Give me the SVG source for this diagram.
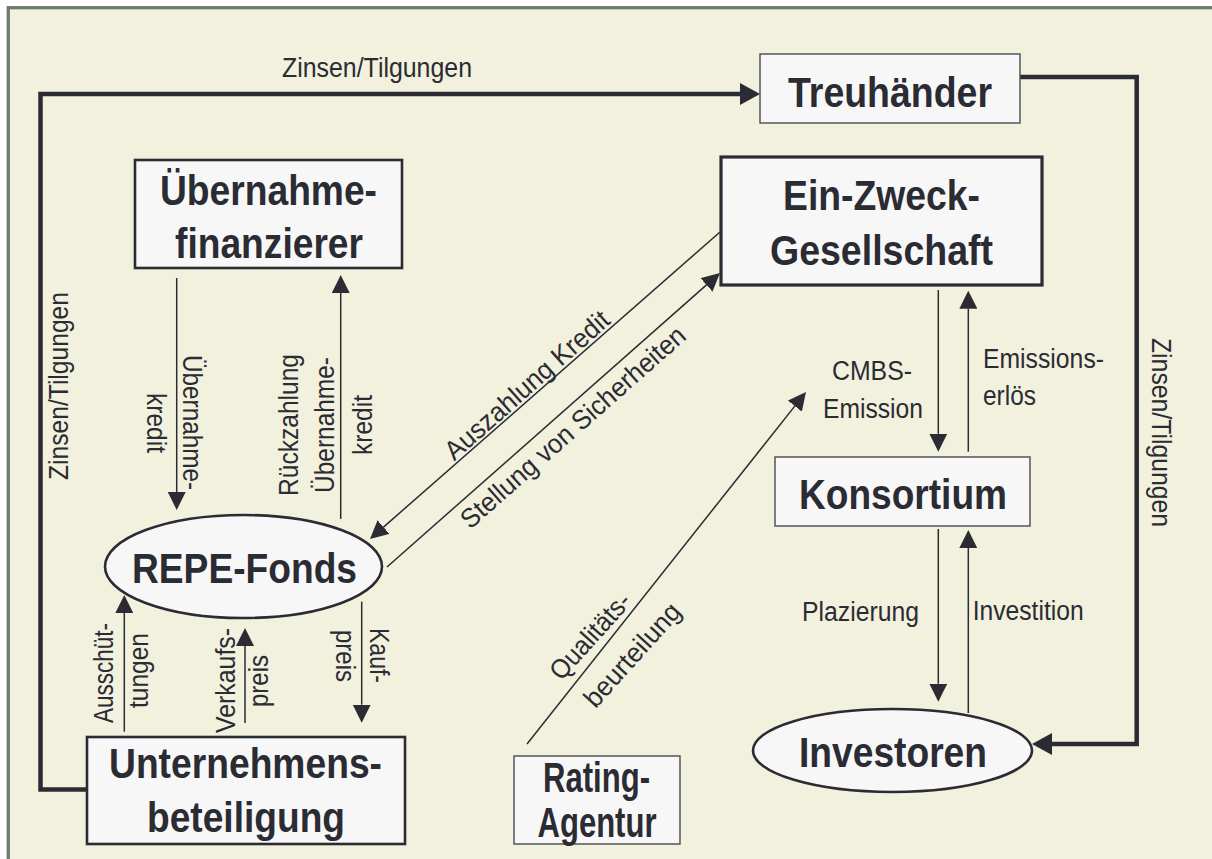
<svg xmlns="http://www.w3.org/2000/svg" width="1212" height="859" viewBox="0 0 1212 859">
  <style>
    .frame { fill: #f2f1dd; stroke: #6f7b6f; stroke-width: 3.3; }
    .box { fill: #f7f7f7; stroke: #2b2b34; }
    .thin { stroke-width: 1.4; stroke: #4a4a50; }
    .mid { stroke-width: 2.6; }
    .heavy { stroke-width: 3.2; }
    .flow { fill: none; stroke: #2b2b34; stroke-width: 1.5; }
    .loop { fill: none; stroke: #2b2b34; stroke-width: 4.5; stroke-linejoin: miter; }
    text { font-family: "Liberation Sans Narrow", "Liberation Sans", Arial, sans-serif; fill: #2b2b34; }
    .big { font-size: 43px; font-weight: bold; text-anchor: middle; }
    .lbl { font-size: 27px; text-anchor: middle; }
    .lft { text-anchor: start; }
  </style>
  <defs>
    <marker id="ah" markerUnits="userSpaceOnUse" markerWidth="18" markerHeight="18" refX="0" refY="9" orient="auto">
      <path d="M0,0 L18,9 L0,18 z" fill="#2b2b34"/>
    </marker>
    <marker id="ahBig" markerUnits="userSpaceOnUse" markerWidth="20" markerHeight="22" refX="0" refY="11" orient="auto">
      <path d="M0,0 L20,11 L0,22 z" fill="#2b2b34"/>
    </marker>
  </defs>

  <rect x="0" y="0" width="1212" height="859" fill="#ffffff"/>
  <rect class="frame" x="8.3" y="7.7" width="1240" height="900"/>

  <!-- connectors -->
  <g id="connectors">
    <path class="loop" d="M87,789.5 H40.5 V94 H740" marker-end="url(#ahBig)"/>
    <path class="loop" d="M1020,77 H1136.7 V744 H1052" marker-end="url(#ahBig)"/>

    <path class="flow" d="M176.7,278 V492" marker-end="url(#ah)"/>
    <path class="flow" d="M340.7,519 V293" marker-end="url(#ah)"/>
    <path class="flow" d="M720,232 L383.5,527.1" marker-end="url(#ah)"/>
    <path class="flow" d="M387,567 L706.5,284.9" marker-end="url(#ah)"/>
    <path class="flow" d="M527,744 L794.8,406.1" marker-end="url(#ah)"/>
    <path class="flow" d="M124.3,731.7 V613" marker-end="url(#ah)"/>
    <path class="flow" d="M245,723 V646" marker-end="url(#ah)"/>
    <path class="flow" d="M361.7,601.7 V704.7" marker-end="url(#ah)"/>
    <path class="flow" d="M938.3,290 V433.7" marker-end="url(#ah)"/>
    <path class="flow" d="M968.3,451.7 V308.7" marker-end="url(#ah)"/>
    <path class="flow" d="M938.3,529 V683.7" marker-end="url(#ah)"/>
    <path class="flow" d="M968.3,713 V548" marker-end="url(#ah)"/>

    <!-- flow labels -->
    <text class="lbl" x="377" y="77" textLength="190" lengthAdjust="spacingAndGlyphs">Zinsen/Tilgungen</text>
    <text class="lbl" transform="translate(68.3,386) rotate(-90)" textLength="188" lengthAdjust="spacingAndGlyphs">Zinsen/Tilgungen</text>
    <text class="lbl" transform="translate(1151.7,432.5) rotate(90)" textLength="189" lengthAdjust="spacingAndGlyphs">Zinsen/Tilgungen</text>

    <text class="lbl" transform="translate(183,422.5) rotate(90)" textLength="135" lengthAdjust="spacingAndGlyphs">Übernahme-</text>
    <text class="lbl" transform="translate(147,423) rotate(90)" textLength="60" lengthAdjust="spacingAndGlyphs">kredit</text>

    <text class="lbl" transform="translate(298,425) rotate(-90)" textLength="142" lengthAdjust="spacingAndGlyphs">Rückzahlung</text>
    <text class="lbl" transform="translate(333.5,425) rotate(-90)" textLength="136" lengthAdjust="spacingAndGlyphs">Übernahme-</text>
    <text class="lbl" transform="translate(371.7,425) rotate(-90)" textLength="60" lengthAdjust="spacingAndGlyphs">kredit</text>

    <text class="lbl" transform="translate(533,392) rotate(-41.4)" textLength="210" lengthAdjust="spacingAndGlyphs">Auszahlung Kredit</text>
    <text class="lbl" transform="translate(579,434) rotate(-41.4)" textLength="290" lengthAdjust="spacingAndGlyphs">Stellung von Sicherheiten</text>

    <text class="lbl" transform="translate(597,642) rotate(-48)" textLength="107" lengthAdjust="spacingAndGlyphs">Qualitäts-</text>
    <text class="lbl" transform="translate(639,661) rotate(-48)" textLength="130" lengthAdjust="spacingAndGlyphs">beurteilung</text>

    <text class="lbl" transform="translate(113.3,673) rotate(-90)" textLength="100" lengthAdjust="spacingAndGlyphs">Ausschüt-</text>
    <text class="lbl" transform="translate(147.5,670.5) rotate(-90)" textLength="75" lengthAdjust="spacingAndGlyphs">tungen</text>
    <text class="lbl" transform="translate(235,680.5) rotate(-90)" textLength="105" lengthAdjust="spacingAndGlyphs">Verkaufs-</text>
    <text class="lbl" transform="translate(268,681) rotate(-90)" textLength="52" lengthAdjust="spacingAndGlyphs">preis</text>
    <text class="lbl" transform="translate(370,655.5) rotate(90)" textLength="55" lengthAdjust="spacingAndGlyphs">Kauf-</text>
    <text class="lbl" transform="translate(336,656) rotate(90)" textLength="52" lengthAdjust="spacingAndGlyphs">preis</text>

    <text class="lbl" x="872" y="380" textLength="80" lengthAdjust="spacingAndGlyphs">CMBS-</text>
    <text class="lbl" x="873" y="417.6" textLength="100" lengthAdjust="spacingAndGlyphs">Emission</text>
    <text class="lbl lft" x="983" y="368" textLength="121" lengthAdjust="spacingAndGlyphs">Emissions-</text>
    <text class="lbl lft" x="983" y="405" textLength="53" lengthAdjust="spacingAndGlyphs">erlös</text>
    <text class="lbl" x="860.5" y="621" textLength="117" lengthAdjust="spacingAndGlyphs">Plazierung</text>
    <text class="lbl lft" x="972.7" y="620" textLength="111" lengthAdjust="spacingAndGlyphs">Investition</text>
  </g>

  <!-- nodes -->
  <g id="treuhaender">
    <rect class="box thin" x="760" y="54" width="260" height="69"/>
    <text class="big" x="890" y="107" font-size="46" textLength="204" lengthAdjust="spacingAndGlyphs">Treuhänder</text>
  </g>
  <g id="ein-zweck-gesellschaft">
    <rect class="box heavy" x="721" y="157" width="321" height="128"/>
    <text class="big" x="881.5" y="210" font-size="44" textLength="197" lengthAdjust="spacingAndGlyphs">Ein-Zweck-</text>
    <text class="big" x="881.5" y="265" font-size="44" textLength="223" lengthAdjust="spacingAndGlyphs">Gesellschaft</text>
  </g>
  <g id="uebernahmefinanzierer">
    <rect class="box mid" x="135" y="160" width="267" height="108"/>
    <text class="big" x="268.5" y="205" textLength="217" lengthAdjust="spacingAndGlyphs">Übernahme-</text>
    <text class="big" x="269" y="258" textLength="188" lengthAdjust="spacingAndGlyphs">finanzierer</text>
  </g>
  <g id="repe-fonds">
    <ellipse class="box mid" cx="243.5" cy="566.5" rx="138.5" ry="51.5"/>
    <text class="big" x="244.5" y="583" textLength="225" lengthAdjust="spacingAndGlyphs">REPE-Fonds</text>
  </g>
  <g id="unternehmensbeteiligung">
    <rect class="box mid" x="87" y="737" width="318" height="107"/>
    <text class="big" x="245.5" y="778" textLength="273" lengthAdjust="spacingAndGlyphs">Unternehmens-</text>
    <text class="big" x="246" y="832" textLength="198" lengthAdjust="spacingAndGlyphs">beteiligung</text>
  </g>
  <g id="konsortium">
    <rect class="box thin" x="775" y="457" width="255" height="69"/>
    <text class="big" x="903" y="508.5" textLength="208" lengthAdjust="spacingAndGlyphs">Konsortium</text>
  </g>
  <g id="investoren">
    <ellipse class="box mid" cx="892.5" cy="750.5" rx="139.5" ry="41.5"/>
    <text class="big" x="893" y="767" textLength="188" lengthAdjust="spacingAndGlyphs">Investoren</text>
  </g>
  <g id="rating-agentur">
    <rect class="box thin" x="514" y="756" width="166" height="88"/>
    <text class="big" x="596.5" y="792" font-size="36" textLength="107" lengthAdjust="spacingAndGlyphs">Rating-</text>
    <text class="big" x="597" y="836.5" font-size="36" textLength="119" lengthAdjust="spacingAndGlyphs">Agentur</text>
  </g>
</svg>
